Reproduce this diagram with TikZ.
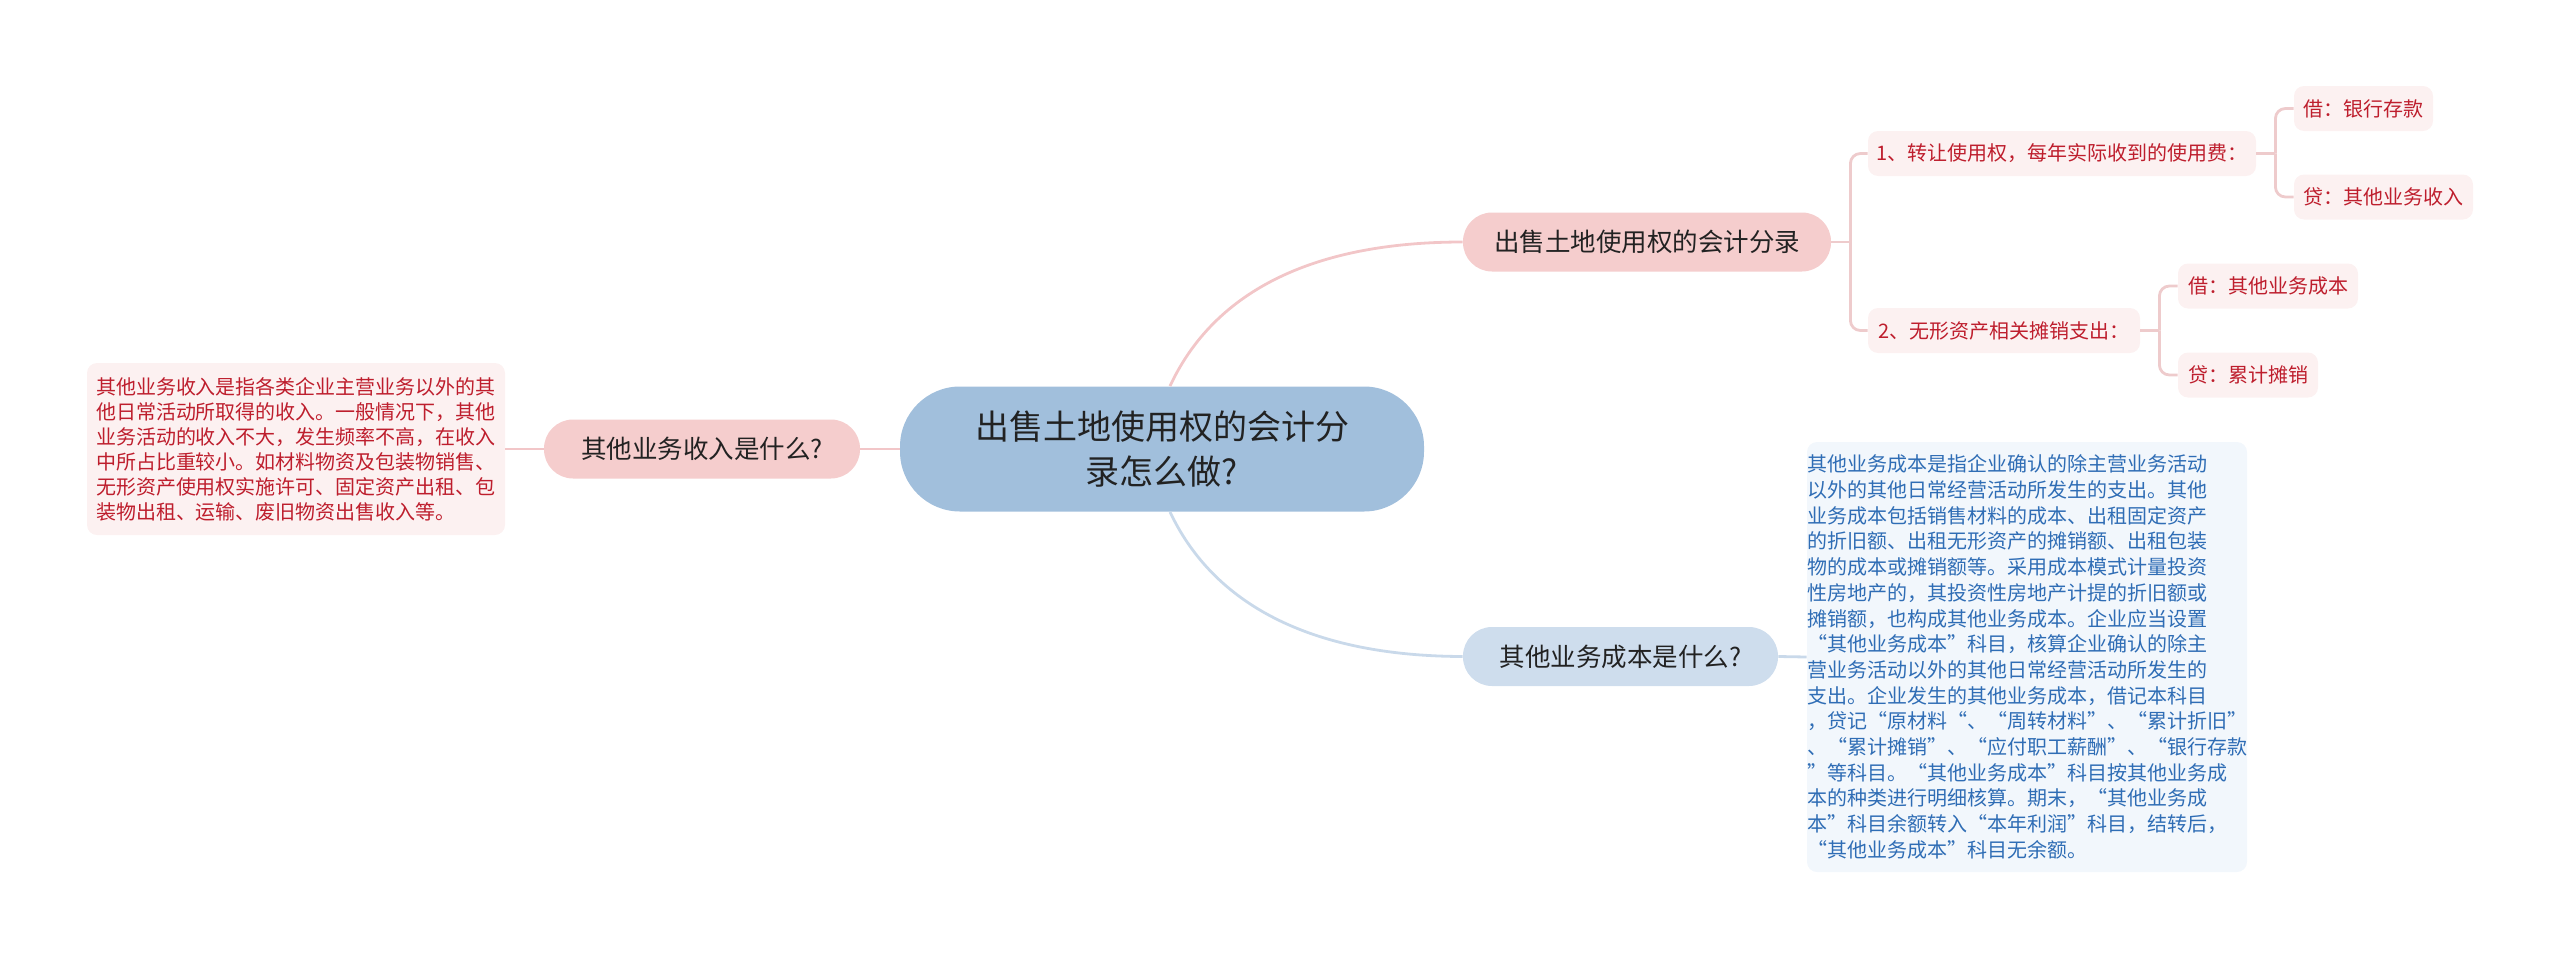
\documentclass[tikz,border=0pt]{standalone}
\usepackage{fontspec}
\setmainfont{Noto Sans CJK SC}
\definecolor{rootfill}{HTML}{A1BFDC}
\definecolor{pinkfill}{HTML}{F5CDCD}
\definecolor{bluefill}{HTML}{CEDDED}
\definecolor{pinkbox}{HTML}{FCF1F1}
\definecolor{bluebox}{HTML}{F2F7FC}
\definecolor{redtext}{HTML}{BE1E2D}
\definecolor{bluetext}{HTML}{2F6DB5}
\definecolor{darktext}{HTML}{222222}
\definecolor{pinkline}{HTML}{F2C6C8}
\definecolor{blueline}{HTML}{C9D9EA}
\definecolor{bracketline}{HTML}{EECBCC}
\begin{document}
\begin{tikzpicture}[x=0.5pt,y=-0.5pt,
  rootnode/.style={fill=rootfill, rounded corners=30pt, minimum width=262pt, minimum height=62.5pt, inner sep=0pt, align=center, text=darktext, font=\fontsize{17pt}{22.5pt}\selectfont},
  mainpink/.style={fill=pinkfill, rounded corners=14.5pt, minimum height=29.5pt, inner sep=0pt, text=darktext, font=\fontsize{12.75pt}{15pt}\selectfont},
  mainblue/.style={mainpink, fill=bluefill},
  leaf/.style={fill=pinkbox, rounded corners=5pt, minimum height=22.5pt, inner sep=0pt, text=redtext, font=\fontsize{10pt}{12pt}\selectfont},
  pinktext/.style={fill=pinkbox, rounded corners=5pt, inner sep=0pt, align=left, text=redtext, font=\fontsize{10pt}{12.5pt}\selectfont},
  bluetextbox/.style={fill=bluebox, rounded corners=5pt, inner sep=0pt, align=left, text=bluetext, font=\fontsize{10pt}{12.85pt}\selectfont},
  pinkconn/.style={draw=pinkline, line width=1.4pt},
  blueconn/.style={draw=blueline, line width=1.4pt},
  bracket/.style={draw=bracketline, line width=1.4pt, rounded corners=5pt}
]
\useasboundingbox (0,0) rectangle (2560,959);

\node[rootnode] (root) at (1162,449) {出售土地使用权的会计分\\录怎么做?};
\node[mainpink, minimum width=184pt] (n1) at (1647,242) {出售土地使用权的会计分录};
\node[mainblue, minimum width=157.5pt] (n2) at (1620.5,656.5) {其他业务成本是什么?};
\node[mainpink, minimum width=158pt] (n3) at (702,449) {其他业务收入是什么?};

\node[pinktext, minimum width=209pt, minimum height=86pt] (t3) at (296,449) {其他业务收入是指各类企业主营业务以外的其\\他日常活动所取得的收入。一般情况下，其他\\业务活动的收入不大，发生频率不高，在收入\\中所占比重较小。如材料物资及包装物销售、\\无形资产使用权实施许可、固定资产出租、包\\装物出租、运输、废旧物资出售收入等。};

\node[bluetextbox, minimum width=210pt, minimum height=215pt] (t2) at (2027,657) {其他业务成本是指企业确认的除主营业务活动\\以外的其他日常经营活动所发生的支出。其他\\业务成本包括销售材料的成本、出租固定资产\\的折旧额、出租无形资产的摊销额、出租包装\\物的成本或摊销额等。采用成本模式计量投资\\性房地产的，其投资性房地产计提的折旧额或\\摊销额，也构成其他业务成本。企业应当设置\\“其他业务成本”科目，核算企业确认的除主\\营业务活动以外的其他日常经营活动所发生的\\支出。企业发生的其他业务成本，借记本科目\\，贷记“原材料“、“周转材料”、“累计折旧”\\、“累计摊销”、“应付职工薪酬”、“银行存款\\”等科目。“其他业务成本”科目按其他业务成\\本的种类进行明细核算。期末，“其他业务成\\本”科目余额转入“本年利润”科目，结转后，\\“其他业务成本”科目无余额。};

\node[leaf, minimum width=194pt] (a1) at (2062,153.5) {1、转让使用权，每年实际收到的使用费：};
\node[leaf, minimum width=136pt] (a2) at (2004,330.5) {2、无形资产相关摊销支出：};
\node[leaf, minimum width=69.5pt] (b1) at (2363.5,108.5) {借：银行存款};
\node[leaf, minimum width=89.5pt] (b2) at (2383.5,197) {贷：其他业务收入};
\node[leaf, minimum width=90pt] (c1) at (2268,286) {借：其他业务成本};
\node[leaf, minimum width=70pt] (c2) at (2248,375) {贷：累计摊销};

\draw[pinkconn] ([xshift=4pt]root.north) .. controls (1210,300) and (1300,242) .. (n1.west);
\draw[blueconn] ([xshift=4pt]root.south) .. controls (1210,597) and (1300,656) .. (n2.west);
\draw[pinkconn] (root.west) -- (n3.east);
\draw[pinkconn] (n3.west) -- (t3.east);
\draw[blueconn] (n2.east) -- (t2.west);

\draw[bracket] (n1.east) -- ++(19,0) coordinate (j1);
\draw[bracket] (j1) |- (a1.west);
\draw[bracket] (j1) |- (a2.west);
\draw[bracket] (a1.east) -- ++(19,0) coordinate (j2);
\draw[bracket] (j2) |- (b1.west);
\draw[bracket] (j2) |- (b2.west);
\draw[bracket] (a2.east) -- ++(19,0) coordinate (j3);
\draw[bracket] (j3) |- (c1.west);
\draw[bracket] (j3) |- (c2.west);
\end{tikzpicture}
\end{document}
